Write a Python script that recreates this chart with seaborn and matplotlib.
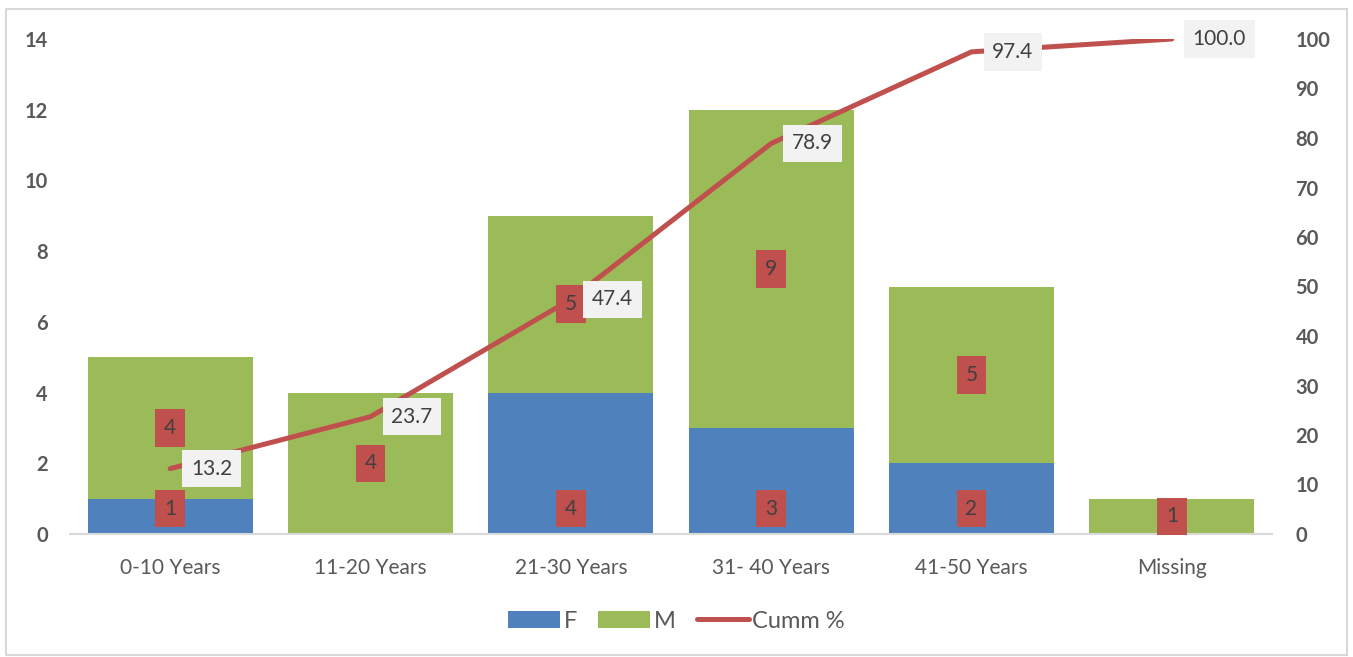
import matplotlib
matplotlib.use("Agg")
import matplotlib.pyplot as plt
import seaborn as sns
import pandas as pd
import numpy as np
from matplotlib.patches import Patch, Rectangle
from matplotlib.lines import Line2D

categories = ["0-10 Years", "11-20 Years", "21-30 Years", "31- 40 Years", "41-50 Years", "Missing"]
female = [1, 0, 4, 3, 2, 0]
male = [4, 4, 5, 9, 5, 1]
cumm_pct = [13.2, 23.7, 47.4, 78.9, 97.4, 100.0]
left_ticks = [0, 2, 4, 6, 8, 10, 12, 14]
right_ticks = [0, 10, 20, 30, 40, 50, 60, 70, 80, 90, 100]

BLUE = "#4F81BD"
GREEN = "#9BBB59"
RED = "#C0504D"
TXT = "#595959"
LBL = "#404040"

sns.set_theme(style="white")
plt.rcParams['font.family'] = ['Lato', 'DejaVu Sans']

df = pd.DataFrame({"cat": categories, "F": female, "M": male})
df["total"] = df["F"] + df["M"]
df["cumm"] = cumm_pct

fig = plt.figure(figsize=(13.53, 6.57), dpi=100)
fig.patches.append(Rectangle((6/1353, 2/657), 1341/1353, 646/657, transform=fig.transFigure,
                             fill=False, edgecolor="#D9D9D9", linewidth=1.5))
ax = fig.add_axes([70/1353, 1 - 534/657, 1202/1353, 495/657])

sns.barplot(data=df, x="cat", y="total", color=GREEN, width=0.825, saturation=1,
            ax=ax, edgecolor="none", zorder=2)
sns.barplot(data=df, x="cat", y="F", color=BLUE, width=0.825, saturation=1,
            ax=ax, edgecolor="none", zorder=3)

ax.set_ylim(0, 14)
ax.set_xlim(-0.5, 5.5)
ax.set_yticks(left_ticks)
ax.set_xlabel("")
ax.set_ylabel("")
for s in ["top", "left", "right"]:
    ax.spines[s].set_visible(False)
ax.spines["bottom"].set_color("#D9D9D9")
ax.spines["bottom"].set_linewidth(1.5)
ax.spines["bottom"].set_zorder(4)
ax.tick_params(axis="y", length=0, pad=16, labelsize=14.5, labelcolor=TXT)
ax.tick_params(axis="x", length=0, pad=17, labelsize=15, labelcolor=TXT)
for t in ax.get_yticklabels():
    t.set_fontweight("bold")

ax2 = ax.twinx()
sns.lineplot(x=np.arange(len(categories)), y=df["cumm"].values, color=RED, linewidth=3.6,
             ax=ax2, zorder=5, solid_capstyle="round")
ax2.set_ylim(0, 100)
ax2.set_yticks(right_ticks)
ax2.set_xlim(-0.5, 5.5)
for s in ["top", "left", "right", "bottom"]:
    ax2.spines[s].set_visible(False)
ax2.tick_params(axis="y", length=0, pad=17, labelsize=14.5, labelcolor=TXT)
for t in ax2.get_yticklabels():
    t.set_fontweight("bold")

# bar labels (drawn on ax2 so they sit above the line)
for i, (f, m) in enumerate(zip(female, male)):
    if f > 0:
        ax2.text(i, 0.72, str(f), ha="center", va="center", fontsize=15, color=LBL, zorder=10,
                 transform=ax.transData,
                 bbox=dict(boxstyle="square,pad=0.42", facecolor=RED, edgecolor="none"))
    if m > 0:
        ax2.text(i, f + m / 2, str(m), ha="center", va="center", fontsize=15, color=LBL, zorder=10,
                 transform=ax.transData,
                 bbox=dict(boxstyle="square,pad=0.42", facecolor=RED, edgecolor="none"))

# line labels
for i, v in enumerate(cumm_pct):
    ax2.annotate(f"{v:.1f}", xy=(i, v), xytext=(15, 0), textcoords="offset points",
                 ha="left", va="center", fontsize=15, color=LBL, zorder=11,
                 bbox=dict(boxstyle="square,pad=0.42", facecolor="#F2F2F2", edgecolor="none"))

handles = [Patch(facecolor=BLUE, edgecolor="none"),
           Patch(facecolor=GREEN, edgecolor="none"),
           Line2D([0], [0], color=RED, linewidth=3.6, solid_capstyle="round")]
fig.legend(handles, ["F", "M", "Cumm %"], loc="center", bbox_to_anchor=(0.5, 1 - 621/657),
           ncol=3, frameon=False, fontsize=17, labelcolor=TXT, handlelength=2.2,
           handleheight=0.7, columnspacing=0.9, handletextpad=0.15)

fig.savefig("out.png", dpi=100)
